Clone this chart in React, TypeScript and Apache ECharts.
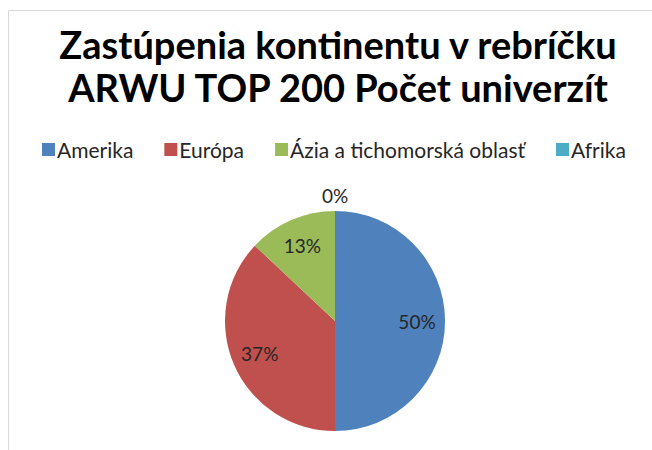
import React, { useEffect, useRef } from 'react';
import * as echarts from 'echarts';

const titleLines = ['Zastúpenia kontinentu v rebríčku', 'ARWU TOP 200 Počet univerzít'];
const continents = ['Amerika', 'Európa', 'Ázia a tichomorská oblasť', 'Afrika'];
const universityCounts = [100, 74, 26, 0];
const sliceColors = ['#4F81BD', '#C0504D', '#9BBB59', '#4BACC6'];

const FONT = 'Lato';

export default function App() {
  const ref = useRef<HTMLDivElement>(null);
  useEffect(() => {
    document.body.style.margin = '0';
    const chart = echarts.init(ref.current!, null, { renderer: 'svg' });
    const cx = 335;
    const cy = 321;
    const R = 110;
    const pct = (p: any) => Math.round(p.percent) + '%';
    const labelStyle = { fontFamily: FONT, fontSize: 19, color: '#262626' };
    const baseData = continents.map((name, i) => ({
      name,
      value: universityCounts[i],
      itemStyle: { color: sliceColors[i] },
    }));
    chart.setOption({
      animation: false,
      backgroundColor: '#ffffff',
      title: {
        text: titleLines.join('\n'),
        left: 333,
        textAlign: 'center',
        top: 17,
        textStyle: { fontFamily: FONT, fontSize: 38, fontWeight: 'bold', lineHeight: 43, color: '#000000' },
      },
      legend: {
        data: continents,
        top: 134,
        left: 37,
        icon: 'rect',
        itemWidth: 13,
        itemHeight: 13,
        itemGap: 31,
        textStyle: { fontFamily: FONT, fontSize: 21, color: '#262626', padding: [0, 0, 0, -3] },
      },
      graphic: [
        { type: 'line', shape: { x1: 8.5, y1: 10.5, x2: 652, y2: 10.5 }, style: { stroke: '#d9d9d9', lineWidth: 1 } },
        { type: 'line', shape: { x1: 8.5, y1: 10.5, x2: 8.5, y2: 450 }, style: { stroke: '#d9d9d9', lineWidth: 1 } },
      ],
      series: [
        {
          type: 'pie',
          center: [cx, cy],
          radius: R,
          startAngle: 90,
          clockwise: true,
          silent: true,
          label: { show: false },
          labelLine: { show: false },
          data: baseData,
        },
        {
          type: 'pie',
          center: [cx, cy],
          radius: [48, R],
          startAngle: 90,
          clockwise: true,
          silent: true,
          itemStyle: { color: 'transparent' },
          labelLine: { show: false },
          label: { show: true, position: 'inside', formatter: pct, ...labelStyle },
          data: continents.map((name, i) => ({
            name,
            value: universityCounts[i],
            itemStyle: { color: 'transparent' },
            label: { show: universityCounts[i] > 0 },
          })),
        },
        {
          type: 'pie',
          center: [cx, cy],
          radius: [R + 3, R + 23],
          startAngle: 90,
          clockwise: true,
          silent: true,
          itemStyle: { color: 'transparent' },
          labelLine: { show: false },
          label: { show: true, position: 'inside', formatter: pct, ...labelStyle },
          data: continents.map((name, i) => ({
            name,
            value: universityCounts[i],
            itemStyle: { color: 'transparent' },
            label: { show: universityCounts[i] === 0 },
          })),
        },
      ],
    });
    return () => chart.dispose();
  }, []);
  return <div ref={ref} style={{ width: 652, height: 450 }} />;
}
